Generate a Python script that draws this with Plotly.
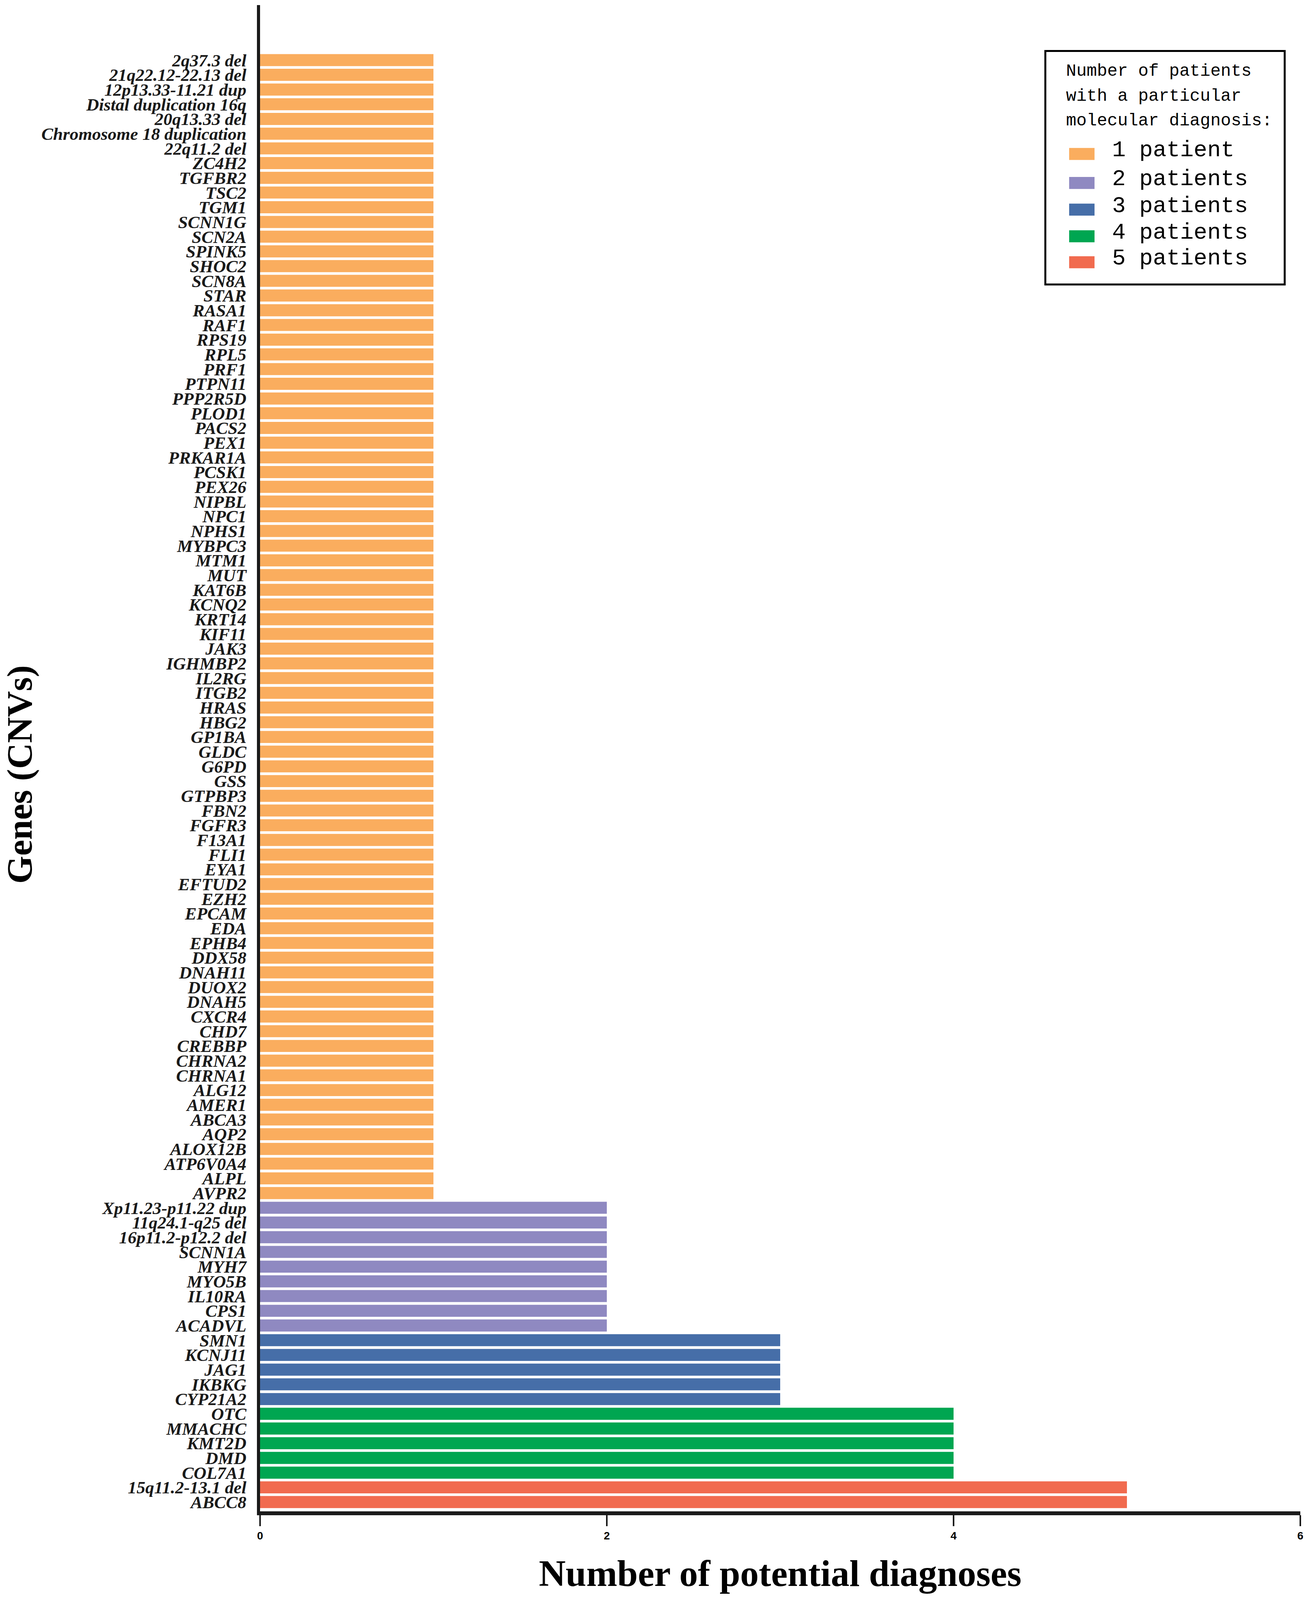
import plotly.graph_objects as go

# genes / CNVs, top of the chart to bottom, grouped by number of patients
genes_1 = ["2q37.3 del", "21q22.12-22.13 del", "12p13.33-11.21 dup", "Distal duplication 16q",
           "20q13.33 del", "Chromosome 18 duplication", "22q11.2 del", "ZC4H2", "TGFBR2", "TSC2",
           "TGM1", "SCNN1G", "SCN2A", "SPINK5", "SHOC2", "SCN8A", "STAR", "RASA1", "RAF1", "RPS19",
           "RPL5", "PRF1", "PTPN11", "PPP2R5D", "PLOD1", "PACS2", "PEX1", "PRKAR1A", "PCSK1", "PEX26",
           "NIPBL", "NPC1", "NPHS1", "MYBPC3", "MTM1", "MUT", "KAT6B", "KCNQ2", "KRT14", "KIF11",
           "JAK3", "IGHMBP2", "IL2RG", "ITGB2", "HRAS", "HBG2", "GP1BA", "GLDC", "G6PD", "GSS",
           "GTPBP3", "FBN2", "FGFR3", "F13A1", "FLI1", "EYA1", "EFTUD2", "EZH2", "EPCAM", "EDA",
           "EPHB4", "DDX58", "DNAH11", "DUOX2", "DNAH5", "CXCR4", "CHD7", "CREBBP", "CHRNA2", "CHRNA1",
           "ALG12", "AMER1", "ABCA3", "AQP2", "ALOX12B", "ATP6V0A4", "ALPL", "AVPR2"]
genes_2 = ["Xp11.23-p11.22 dup", "11q24.1-q25 del", "16p11.2-p12.2 del", "SCNN1A", "MYH7",
           "MYO5B", "IL10RA", "CPS1", "ACADVL"]
genes_3 = ["SMN1", "KCNJ11", "JAG1", "IKBKG", "CYP21A2"]
genes_4 = ["OTC", "MMACHC", "KMT2D", "DMD", "COL7A1"]
genes_5 = ["15q11.2-13.1 del", "ABCC8"]

groups = [genes_1, genes_2, genes_3, genes_4, genes_5]
counts = [1, 2, 3, 4, 5]
group_names = ["1 patient", "2 patients", "3 patients", "4 patients", "5 patients"]
colors = ["#FAAD5E", "#8F89C1", "#466EA8", "#00A651", "#F16B4F"]
legend_title = ["Number of patients", "with a particular", "molecular diagnosis:"]
x_ticks = [0, 2, 4, 6]

# the visible page is a bit shorter than the 4260 px window, so the layout
# is laid out in reference pixels and squeezed vertically by k
W, REF_H = 3342, 4260
H = 4100
k = H / REF_H
ML, MR, MT, MB = 666, 12, 14, 240
PW, PH = W - ML - MR, REF_H - MT - MB


def px(x):
    return (x - ML) / PW


def py(y):
    return (REF_H - MB - y) / PH


all_genes = [g for grp in groups for g in grp]

fig = go.Figure()
for grp, n, name, col in zip(groups, counts, group_names, colors):
    fig.add_trace(go.Bar(
        y=grp, x=[n] * len(grp), orientation="h", name=name,
        marker=dict(color=col, line=dict(width=0)), showlegend=False,
    ))

# hand-drawn legend box, like the original figure
shapes = [dict(type="rect", xref="paper", yref="paper",
               x0=px(2677), x1=px(3290), y0=py(757), y1=py(136),
               line=dict(color="black", width=5), fillcolor="white")]
annotations = []
for i, line in enumerate(legend_title):
    annotations.append(dict(text=line, xref="paper", yref="paper", x=px(2728), y=py(190 + 66 * i),
                            xanchor="left", yanchor="middle", showarrow=False,
                            font=dict(family="Liberation Mono", size=44, color="black")))
sw_centers = [410, 487, 558, 629, 698]
for name, col, yc in zip(group_names, colors, sw_centers):
    shapes.append(dict(type="rect", xref="paper", yref="paper",
                       x0=px(2738), x1=px(2803), y0=py(yc + 16), y1=py(yc - 16),
                       line=dict(width=0), fillcolor=col))
    annotations.append(dict(text=name, xref="paper", yref="paper", x=px(2846), y=py(yc - 10),
                            xanchor="left", yanchor="middle", showarrow=False,
                            font=dict(family="Liberation Mono", size=58, color="black")))

annotations.append(dict(text="<b>Genes (CNVs)</b>", xref="paper", yref="paper",
                        x=px(50), y=py(2060), textangle=-90, showarrow=False,
                        xanchor="center", yanchor="middle",
                        font=dict(family="Liberation Serif", size=92, color="black")))

fig.update_layout(
    width=W, height=H,
    margin=dict(l=ML, r=MR, t=MT * k, b=MB * k, autoexpand=False),
    plot_bgcolor="white", paper_bgcolor="white",
    bargap=0.18,
    shapes=shapes, annotations=annotations,
    xaxis=dict(
        range=[0, 6], tickvals=x_ticks, ticktext=[f"<b>{t}</b>" for t in x_ticks],
        showgrid=False, zeroline=False,
        showline=True, linecolor="#1a1a1a", linewidth=10,
        ticks="outside", ticklen=28, tickwidth=4, tickcolor="#1a1a1a",
        tickfont=dict(family="Liberation Sans", size=28, color="black"),
        title=dict(text="<b>Number of potential diagnoses</b>", standoff=52,
                   font=dict(family="Liberation Serif", size=95, color="black")),
    ),
    yaxis=dict(
        categoryorder="array", categoryarray=all_genes,
        range=[98.63, -3.74],
        tickvals=all_genes, ticktext=[f"<b><i>{g}</i></b>" for g in all_genes],
        showgrid=False, zeroline=False,
        showline=True, linecolor="#1a1a1a", linewidth=8,
        ticks="", ticklabelstandoff=18,
        tickfont=dict(family="Liberation Serif", size=45, color="#1a1a1a"),
    ),
)

# no page margin / scrollbars, so the figure sits flush in the window
fig.write_html("out.html", config={"displayModeBar": False},
               post_script="document.body.style.margin='0';document.body.style.overflow='hidden';")
